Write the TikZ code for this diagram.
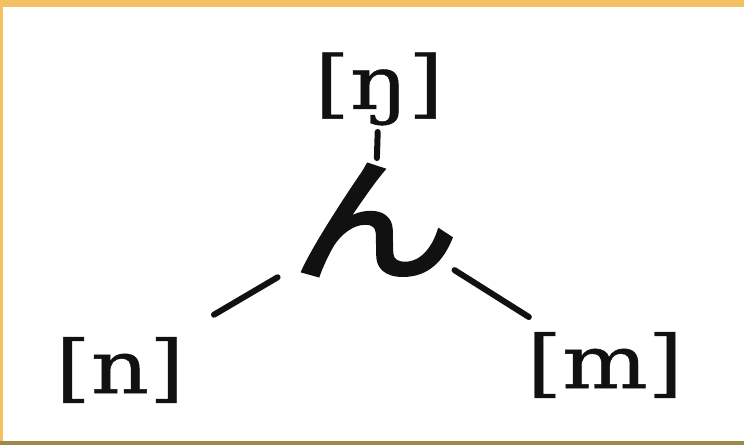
\documentclass[tikz,border=0pt]{standalone}
\usepackage{fontspec}
\setmainfont{DejaVu Serif}[FakeStretch=1.22, FakeBold=0.6]
\newfontfamily\kanafont{Noto Sans CJK JP}[FakeStretch=1.25, FakeBold=3]
\usetikzlibrary{positioning, calc}
\definecolor{FrameOrange}{HTML}{F3C162}
\definecolor{FrameDark}{HTML}{9E8A4C}
\definecolor{InkBlack}{HTML}{111111}

\begin{document}
\begin{tikzpicture}[x=1pt, y=1pt]
    \tikzstyle{phone} = [text=InkBlack, inner sep=0pt, font=\fontsize{74}{80}\selectfont]
    \tikzstyle{kana} = [text=InkBlack, inner sep=0pt, font=\kanafont\fontsize{135}{135}\selectfont]
    \tikzstyle{link} = [draw=InkBlack, line width=6pt, line cap=round]

    % frame
    \useasboundingbox (0,0) rectangle (744,445);
    \fill [FrameOrange] (0,0) rectangle (744,445);
    \fill [FrameDark] (0,0) rectangle (744,4);
    \fill [white] (3,4) rectangle (744,438);

    \node [kana] (mora) at (375,225) {ん};
    \node [phone] (velar) at (379,356) {[ŋ]};
    \node [phone] (alveolar) at (120,75) {[n]};
    \node [phone] (bilabial) at (605,80) {[m]};

    \draw [link, shorten <=62pt, shorten >=43pt] (mora.center) -- (velar.center);
    \draw [link, shorten <=113pt, shorten >=109pt] (mora.center) -- (alveolar.center);
    \draw [link, shorten <=94pt, shorten >=90pt] (mora.center) -- (bilabial.center);
  \end{tikzpicture}
\end{document}
